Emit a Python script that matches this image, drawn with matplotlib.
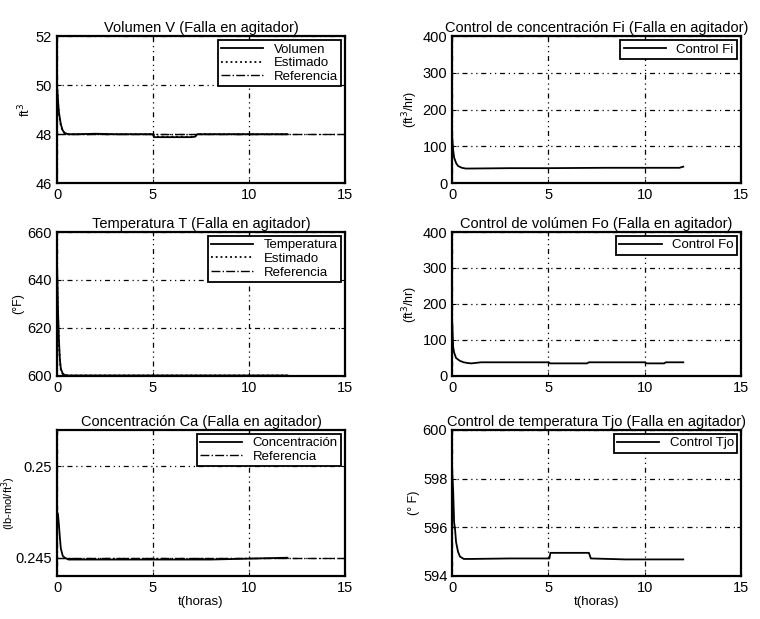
import numpy as np
from matplotlib import pyplot as plt

plt.rcParams['font.family'] = ['Liberation Sans', 'DejaVu Sans']
plt.rcParams['font.size'] = 9

# Volumen V
t_vol = [0, 0.05, 0.1, 0.2, 0.3, 0.4, 0.6, 1, 2, 3, 4, 5, 5.05, 6, 7, 7.2, 7.3, 8, 10, 12]
vol = [50.0, 49.4, 48.9, 48.4, 48.15, 48.05, 48.0, 48.0, 48.02, 48.0, 48.0, 48.0,
       47.88, 47.88, 47.88, 47.9, 48.0, 48.0, 48.0, 48.0]
vol_est = [50.0, 49.3, 48.8, 48.35, 48.12, 48.04, 48.0, 48.0, 48.0, 48.0, 48.0, 48.0,
           47.9, 47.9, 47.9, 47.92, 48.0, 48.0, 48.0, 48.0]
t_ref = [0, 15]
vol_ref = [48, 48]

# Temperatura T
t_temp = [0, 0.02, 0.05, 0.1, 0.15, 0.2, 0.3, 0.4, 0.6, 1, 5, 12]
temp = [646, 640, 628, 615, 607, 603, 601, 600.4, 600.2, 600.2, 600.2, 600.2]
temp_est = [645, 638, 626, 613, 606, 602.5, 600.8, 600.3, 600.2, 600.2, 600.2, 600.2]
temp_ref = [600, 600]

# Concentracion Ca
t_ca = [0, 0.05, 0.1, 0.15, 0.2, 0.3, 0.4, 0.6, 1, 5, 8, 12]
ca = [0.2475, 0.2474, 0.2468, 0.2461, 0.2455, 0.2451, 0.2450, 0.2449, 0.2449,
      0.2449, 0.2449, 0.2450]
ca_ref = [0.245, 0.245]

# Control Fi
t_fi = [0, 0.05, 0.1, 0.2, 0.3, 0.5, 0.7, 1, 3, 5, 8, 11.8, 12]
fi = [125, 90, 70, 55, 47, 42, 40, 40, 41, 41, 42, 42, 45]

# Control Fo
t_fo = [0, 0.05, 0.1, 0.2, 0.4, 0.6, 0.8, 1, 1.5, 5, 5.1, 7, 7.1, 10, 10.1, 11, 11.1, 12]
fo = [150, 80, 65, 50, 42, 38, 36, 35, 38, 38, 35, 35, 38, 38, 35, 35, 38, 38]

# Control Tjo
t_tjo = [0, 0.05, 0.1, 0.15, 0.2, 0.3, 0.4, 0.6, 1, 3, 5.05, 5.1, 7.1, 7.2, 9, 12]
tjo = [598.3, 597.5, 596.2, 595.9, 595.4, 595.0, 594.8, 594.7, 594.7, 594.72,
       594.72, 594.95, 594.95, 594.72, 594.68, 594.68]


def style_axes(ax, title, ylim, yticks, ylabel, xlabel=None):
    ax.set_xlim(0, 15)
    ax.set_xticks([0, 5, 10, 15])
    ax.set_ylim(*ylim)
    ax.set_yticks(yticks)
    ax.set_title(title, fontsize=10.5, pad=3)
    ax.set_ylabel(ylabel, labelpad=2, fontsize=9)
    if xlabel:
        ax.set_xlabel(xlabel, labelpad=1, fontsize=9.5)
    ax.grid(True, color='black', linestyle=(0, (1, 3, 1, 3, 4, 3)), linewidth=0.9)
    ax.tick_params(direction='in', top=True, right=True, length=3, labelsize=10.5)
    for sp in ax.spines.values():
        sp.set_linewidth(1.6)


def add_legend(ax):
    leg = ax.legend(loc='upper right', fontsize=9.5, fancybox=False, framealpha=1,
                    edgecolor='black', borderaxespad=0.3, handlelength=3.2,
                    borderpad=0.25, labelspacing=0.1, handletextpad=0.8)
    leg.get_frame().set_linewidth(1.3)


fig = plt.figure(figsize=(7.6, 6.19), dpi=100)
lw = 1.3

# left column
ax = fig.add_axes([0.075, 0.704, 0.379, 0.2375])
ax.plot(t_vol, vol, 'k-', lw=lw, label='Volumen')
ax.plot(t_vol, vol_est, 'k:', lw=lw, label='Estimado')
ax.plot(t_ref, vol_ref, 'k-.', lw=1.0, label='Referencia')
style_axes(ax, 'Volumen V (Falla en agitador)', (46, 52), [46, 48, 50, 52], 'ft$^3$')
add_legend(ax)

ax = fig.add_axes([0.075, 0.3926, 0.379, 0.2326])
ax.plot(t_temp, temp, 'k-', lw=lw, label='Temperatura')
ax.plot(t_temp, temp_est, 'k:', lw=lw, label='Estimado')
ax.plot(t_ref, temp_ref, 'k-.', lw=1.0, label='Referencia')
style_axes(ax, 'Temperatura T (Falla en agitador)', (600, 660), [600, 620, 640, 660], '(°F)')
add_legend(ax)

ax = fig.add_axes([0.075, 0.0695, 0.379, 0.236])
ax.plot(t_ca, ca, 'k-', lw=lw, label='Concentración')
ax.plot(t_ref, ca_ref, 'k-.', lw=1.0, label='Referencia')
style_axes(ax, 'Concentración Ca (Falla en agitador)', (0.244, 0.252), [0.245, 0.25],
           '(lb-mol/ft$^3$)', 't(horas)')
ax.set_yticklabels(['0.245', '0.25'])
ax.set_ylabel('(lb-mol/ft$^3$)', fontsize=8)
ax.yaxis.set_label_coords(-0.135, 0.5)
add_legend(ax)

# right column
ax = fig.add_axes([0.595, 0.704, 0.380, 0.2375])
ax.plot(t_fi, fi, 'k-', lw=lw, label='Control Fi')
style_axes(ax, 'Control de concentración Fi (Falla en agitador)', (0, 400),
           [0, 100, 200, 300, 400], '(ft$^3$/hr)')
add_legend(ax)

ax = fig.add_axes([0.595, 0.3926, 0.380, 0.2326])
ax.plot(t_fo, fo, 'k-', lw=lw, label='Control Fo')
style_axes(ax, 'Control de volúmen Fo (Falla en agitador)', (0, 400),
           [0, 100, 200, 300, 400], '(ft$^3$/hr)')
add_legend(ax)

ax = fig.add_axes([0.595, 0.0695, 0.380, 0.236])
ax.plot(t_tjo, tjo, 'k-', lw=lw, label='Control Tjo')
style_axes(ax, 'Control de temperatura Tjo (Falla en agitador)', (594, 600),
           [594, 596, 598, 600], '(° F)', 't(horas)')
add_legend(ax)

fig.savefig('out.png', dpi=100)
